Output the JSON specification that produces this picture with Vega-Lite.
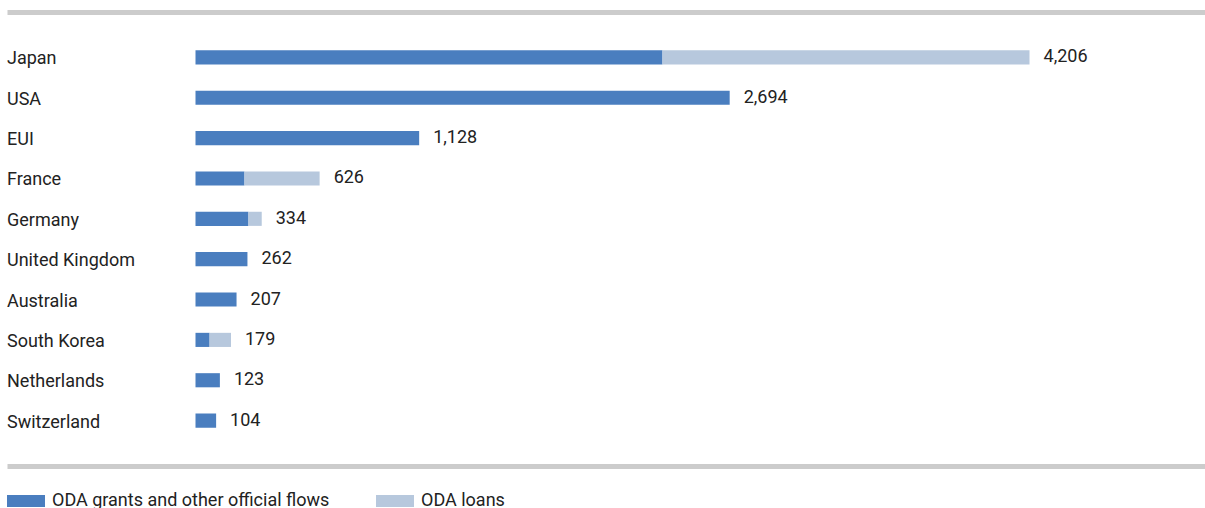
{
  "$schema": "https://vega.github.io/schema/vega-lite/v6.json",
  "width": 1198,
  "height": 454,
  "autosize": {"type": "none"},
  "padding": {"left": 7, "top": 12, "right": 0, "bottom": 42},
  "config": {
    "view": {"stroke": null}, "font": "Roboto",
    "axisX": {"labels": false, "ticks": false, "grid": false, "domain": true, "domainColor": "#cccccc", "domainWidth": 5, "title": null}
  },
  "data": {"values": [
    {"country": "Japan", "type": "ODA grants and other official flows", "value": 2355},
    {"country": "Japan", "type": "ODA loans", "value": 1851},
    {"country": "USA", "type": "ODA grants and other official flows", "value": 2694},
    {"country": "EUI", "type": "ODA grants and other official flows", "value": 1128},
    {"country": "France", "type": "ODA grants and other official flows", "value": 247},
    {"country": "France", "type": "ODA loans", "value": 379},
    {"country": "Germany", "type": "ODA grants and other official flows", "value": 267},
    {"country": "Germany", "type": "ODA loans", "value": 67},
    {"country": "United Kingdom", "type": "ODA grants and other official flows", "value": 262},
    {"country": "Australia", "type": "ODA grants and other official flows", "value": 207},
    {"country": "South Korea", "type": "ODA grants and other official flows", "value": 71},
    {"country": "South Korea", "type": "ODA loans", "value": 108},
    {"country": "Netherlands", "type": "ODA grants and other official flows", "value": 123},
    {"country": "Switzerland", "type": "ODA grants and other official flows", "value": 104}
  ]},
  "encoding": {
    "y": {
      "field": "country", "type": "nominal",
      "sort": ["Japan", "USA", "EUI", "France", "Germany", "United Kingdom", "Australia", "South Korea", "Netherlands", "Switzerland"],
      "scale": {"paddingInner": 0.65, "paddingOuter": 0.95},
      "axis": null
    }
  },
  "resolve": {"axis": {"x": "independent"}},
  "layer": [
    {
      "mark": {"type": "bar"},
      "encoding": {
        "x": {
          "field": "value", "type": "quantitative", "aggregate": "sum", "stack": "zero",
          "scale": {"domain": [-950.6, 5091], "nice": false, "zero": false},
          "axis": {"orient": "top"}
        },
        "color": {
          "field": "type", "type": "nominal",
          "scale": {"domain": ["ODA grants and other official flows", "ODA loans"], "range": ["#4a7ebf", "#b7c8dd"]},
          "legend": {
            "orient": "bottom", "title": null, "direction": "horizontal",
            "offset": 16, "symbolType": "M-1,-0.32H1V0.32H-1Z", "symbolSize": 1444,
            "symbolStrokeWidth": 0, "labelFontSize": 18, "labelColor": "#222222",
            "labelOffset": 7, "columnPadding": 46, "labelLimit": 400
          }
        },
        "order": {"field": "type", "sort": "ascending"}
      }
    },
    {
      "transform": [{"aggregate": [{"op": "sum", "field": "value", "as": "total"}], "groupby": ["country"]}],
      "mark": {"type": "text", "align": "left", "baseline": "middle", "dx": 14, "fontSize": 18, "color": "#222222"},
      "encoding": {
        "x": {"field": "total", "type": "quantitative", "axis": {"orient": "bottom"}},
        "text": {"field": "total", "type": "quantitative", "format": ","}
      }
    },
    {
      "transform": [{"aggregate": [{"op": "count", "as": "n"}], "groupby": ["country"]}],
      "mark": {"type": "text", "align": "left", "baseline": "middle", "dy": 2, "fontSize": 18, "color": "#222222"},
      "encoding": {
        "x": {"datum": -950.6, "axis": null},
        "text": {"field": "country"}
      }
    }
  ]
}
